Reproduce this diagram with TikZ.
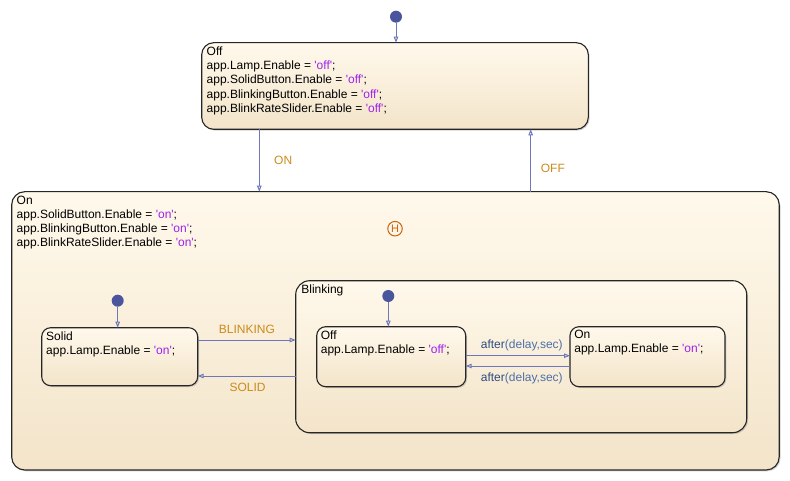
\documentclass[tikz,border=0pt]{standalone}
\usepackage{fontspec}
\setmainfont{Liberation Sans}
\usetikzlibrary{arrows.meta,shadows}
\definecolor{strc}{HTML}{A020F0}
\definecolor{lblc}{HTML}{CC8A1A}
\definecolor{trc}{HTML}{6E78B8}
\definecolor{dotc}{HTML}{4A559E}
\definecolor{hc}{HTML}{C8650E}
\definecolor{aftc}{HTML}{2E4C80}
\definecolor{argc}{HTML}{4D70A6}
\definecolor{topc}{HTML}{FFF9EC}
\definecolor{botc}{HTML}{F3E4C9}
\newcommand{\fs}{\fontsize{12}{14.2}\selectfont}
\newcommand{\str}[1]{\textcolor{strc}{\textquotesingle#1\textquotesingle}}
\tikzset{
  statebox/.style={draw=black!85, line width=1.1pt, rounded corners=#1, anchor=north west,
    inner sep=0pt, outer sep=0pt, top color=topc, bottom color=botc,
    drop shadow={shadow xshift=1.3pt, shadow yshift=-1.3pt, opacity=0.35}},
  statebox/.default=10pt,
  stxt/.style={anchor=north west, inner sep=0pt, align=left, font=\fs},
  lbl/.style={anchor=base west, inner sep=0pt, font=\fs, text=lblc},
  aft/.style={anchor=base west, inner sep=0pt, font=\fs},
  tr/.style={draw=trc, line width=1pt, -{Triangle[open, length=6pt, width=4.5pt]}},
  initdot/.style={circle, fill=dotc, minimum size=12pt, inner sep=0pt, outer sep=0pt},
}
\begin{document}
\begin{tikzpicture}[x=1pt,y=-1pt]
\useasboundingbox (0,0) rectangle (790,481);
% states
\node[statebox=13pt, minimum width=767.5pt, minimum height=278.3pt] (onbox) at (11.7,191.7) {};
\node[statebox=12pt, minimum width=386.6pt, minimum height=86.6pt] (offbox) at (201.7,42.7) {};
\node[statebox=14pt, minimum width=451pt, minimum height=152pt] (blink) at (295.7,280.7) {};
\node[statebox=9pt, minimum width=156pt, minimum height=58pt] (solid) at (41.7,327.7) {};
\node[statebox=9pt, minimum width=149pt, minimum height=60pt] (boff) at (316.7,326.7) {};
\node[statebox=9pt, minimum width=155pt, minimum height=60pt] (bon) at (570,326.7) {};
% state texts
\node[stxt] (offtxt) at (206.5,46.6) {Off\\app.Lamp.Enable = \str{off};\\app.SolidButton.Enable = \str{off};\\app.BlinkingButton.Enable = \str{off};\\app.BlinkRateSlider.Enable = \str{off};};
\node[stxt] (ontxt) at (16.5,195.8) {On\\app.SolidButton.Enable = \str{on};\\app.BlinkingButton.Enable = \str{on};\\app.BlinkRateSlider.Enable = \str{on};};
\node[stxt] (blinktxt) at (301.2,284.6) {Blinking};
\node[stxt] (solidtxt) at (46,331.2) {Solid\\app.Lamp.Enable = \str{on};};
\node[stxt] (bofftxt) at (320.7,330.2) {Off\\app.Lamp.Enable = \str{off};};
\node[stxt] (bontxt) at (574.2,330.2) {On\\app.Lamp.Enable = \str{on};};
% history junction
\node[circle, draw=hc, line width=1pt, minimum size=14.5pt, inner sep=0pt, text=hc, font=\fontsize{11}{12}\selectfont] (hist) at (395,228.7) {H};
% initial dots
\node[initdot] (i0) at (396,16.7) {};
\node[initdot] (i1) at (117.7,300.7) {};
\node[initdot] (i2) at (388.3,296) {};
\draw[tr] (i0) -- (offbox.north -| i0);
\draw[tr] (i1) -- (solid.north -| i1);
\draw[tr] (i2) -- (boff.north -| i2);
% ON / OFF
\coordinate (xon) at (259.3,0);
\coordinate (xoff) at (530.7,0);
\draw[tr] (offbox.south -| xon) -- (onbox.north -| xon);
\draw[tr] (onbox.north -| xoff) -- (offbox.south -| xoff);
\node[lbl] (lon) at (274,164.3) {ON};
\node[lbl] (loff) at (540.7,172.3) {OFF};
% BLINKING / SOLID
\coordinate (yb) at (0,340);
\coordinate (ys) at (0,376);
\draw[tr] (solid.east |- yb) -- (blink.west |- yb);
\draw[tr] (blink.west |- ys) -- (solid.east |- ys);
\node[lbl] (lblink) at (218.7,333.3) {BLINKING};
\node[lbl] (lsolid) at (229.3,391) {SOLID};
% inner after transitions
\coordinate (ya) at (0,355.7);
\coordinate (yc) at (0,366);
\draw[tr] (boff.east |- ya) -- (bon.west |- ya);
\draw[tr] (bon.west |- yc) -- (boff.east |- yc);
\node[aft] (aft1) at (480.7,348) {\textcolor{aftc}{after}\textcolor{argc}{(delay,sec)}};
\node[aft] (aft2) at (480.7,381.7) {\textcolor{aftc}{after}\textcolor{argc}{(delay,sec)}};
\end{tikzpicture}
\end{document}
